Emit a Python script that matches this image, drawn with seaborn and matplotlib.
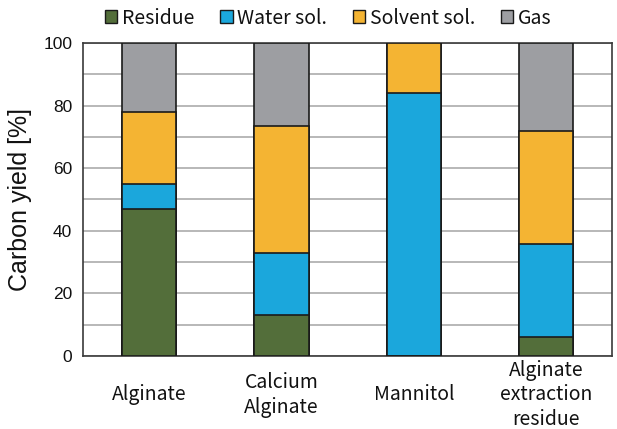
import numpy as np
import pandas as pd
import seaborn as sns
import matplotlib.pyplot as plt
from matplotlib.patches import Patch

categories = ["Alginate", "Calcium\nAlginate", "Mannitol", "Alginate\nextraction\nresidue"]
components = ["Residue", "Water sol.", "Solvent sol.", "Gas"]
residue = [47, 13, 0, 6]
water_sol = [8, 20, 84, 29.7]
solvent_sol = [23, 40.5, 16, 36.3]
gas = [22, 26.5, 0, 28]
colors = ["#536e3a", "#1ba7dc", "#f4b433", "#9d9ea2"]

sns.set_theme(style="white")
plt.rcParams["font.family"] = ["Noto Sans CJK JP", "DejaVu Sans"]

df = pd.DataFrame({"category": categories, "Residue": residue, "Water sol.": water_sol,
                   "Solvent sol.": solvent_sol, "Gas": gas})
cum = df[components].cumsum(axis=1)

fig, ax = plt.subplots(figsize=(6.17, 4.29), dpi=100)
fig.subplots_adjust(left=0.135, right=0.992, top=0.9, bottom=0.17)

# stacked bars: draw cumulative totals from the top layer down
for comp, col in reversed(list(zip(components, colors))):
    sns.barplot(x=df["category"], y=cum[comp], color=col, width=0.41,
                edgecolor="#1a1a1a", linewidth=1.2, saturation=1, ax=ax, zorder=3)

ax.set_ylim(0, 100)
ax.set_yticks(np.arange(0, 101, 20))
ax.set_yticks(np.arange(0, 101, 10), minor=True)
ax.yaxis.grid(True, which="both", color="#b8b8b8", linewidth=1.4, zorder=0)
ax.set_axisbelow(True)
for s in ax.spines.values():
    s.set_color("#3a3a3a")
    s.set_linewidth(1.2)
ax.set_xlabel("")
ax.set_ylabel("Carbon yield [%]", fontsize=18, fontfamily="Liberation Sans",
              color="#111111", labelpad=8)
ax.tick_params(axis="y", which="both", labelsize=12.5, length=0, pad=8)
ax.tick_params(axis="x", labelsize=14, length=0, pad=28)
for lbl in ax.get_yticklabels():
    lbl.set_family("Liberation Sans")
    lbl.set_color("#111111")
for lbl in ax.get_xticklabels():
    lbl.set_verticalalignment("center")
    lbl.set_multialignment("center")
    lbl.set_linespacing(1.22)
    lbl.set_color("#111111")

handles = [Patch(facecolor=c, edgecolor="#1a1a1a", linewidth=1) for c in colors]
fig.legend(handles, components, loc="center", bbox_to_anchor=(0.532, 0.958),
           ncol=4, frameon=False, fontsize=14, handlelength=0.65, handleheight=0.65,
           handletextpad=0.25, columnspacing=1.3, labelcolor="#111111")

fig.savefig("out.png", dpi=100)
